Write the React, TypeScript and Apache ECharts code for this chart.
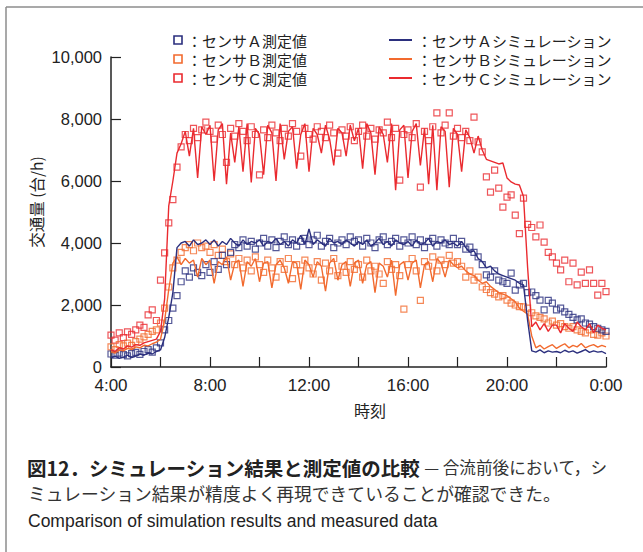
import React, { useEffect, useRef } from "react";
import * as echarts from "echarts";

// 10-minute samples from 4:00 to 0:00 (121 values each)
const START_HOUR = 4;
const STEP_HOURS = 1 / 6;

const aMeas = [
  420, 380, 450, 400, 360, 430, 470, 410, 500, 560, 480, 620,
  780, 1200, 1500, 1900, 2300, 2750, 3100, 2900, 3200, 3050, 2950, 3300,
  3050, 3400, 3150, 3600, 3300, 3700, 3950, 3850, 4100, 3900, 4050, 3800,
  4000, 4150, 3900, 4100, 3850, 4050, 4200, 3950, 4100, 3900, 4050, 4150,
  3950, 4100, 4250, 3900, 4050, 4150, 3850, 4000, 4100, 3950, 4200, 4050,
  4100, 3900, 4150, 4000, 3850, 4100, 4200, 3950, 4050, 4150, 3900, 4100,
  4000, 4200, 3950, 4100, 3850, 4050, 4150, 3900, 4100, 4000, 3950, 4150,
  3950, 4050, 3800, 3870, 3700, 3550, 3300, 2970, 2900, 3100, 2800, 2750,
  2700, 3030, 2480, 2650, 2700, 2400, 2420, 2300, 2160, 1840, 2150, 2060,
  1840, 1900, 1780, 1700, 1600, 1520, 1550, 1420, 1380, 1300, 1250, 1200,
  1150,
];

const aSim = [
  300, 350, 280, 320, 380, 300, 350, 420, 380, 450, 420, 500,
  550, 950, 1600, 2400, 3850, 4000, 4050, 3900, 4100, 3950, 4000, 4100,
  3950, 4100, 3900, 4050, 3950, 4150, 4000, 3900, 4100, 3950, 4050, 4000,
  4100, 3900, 4050, 4000, 4150, 3950, 4050, 3900, 4100, 4000, 4250, 3950,
  4450, 3950, 4100, 4000, 3900, 4150, 4000, 4050, 3950, 4100, 4000, 3900,
  4050, 3950, 4100, 3900, 4000, 4150, 3950, 4050, 3900, 4100, 4000, 3950,
  4050, 3900, 4100, 3950, 4000, 4150, 3900, 4050, 4000, 4100, 3950, 4000,
  3900, 4050, 3850, 3700, 3750, 3500, 3400, 3200, 3250, 3100, 3000, 2950,
  2900, 2850, 2800, 2700, 2650, 1500, 520, 480, 550, 460, 520, 480,
  500, 460, 540, 480, 520, 450, 500, 560, 470, 520, 480, 500,
  430,
];

const bMeas = [
  650, 560, 720, 680, 770, 700, 820, 900, 970, 1050, 1150, 1200,
  1420, 1900, 2580, 3200, 3450, 3700, 3850, 3950, 3750, 4000, 3850, 3900,
  3700, 3950, 3600, 3800, 3400, 3650, 3300, 3500, 3200, 3450, 3100, 3550,
  3300, 3050, 3450, 3200, 2900, 3400, 3150, 3500, 2850, 3300, 3100, 3450,
  3200, 3000, 3400, 2800, 3350, 3100, 3500, 2950, 3250, 3050, 3400, 3150,
  3300, 2900, 3450, 3100, 3250, 3000, 2700, 3400, 3150, 3300, 2950, 1870,
  3300, 3500, 3100, 2150, 3400, 3250, 3550, 3100, 3450, 3300, 3600, 3350,
  3400, 3250, 2900, 3100, 2800, 2900, 2580, 2500, 2400, 2350, 2260, 2300,
  2160, 2060, 2000, 1950, 1940, 1900, 1750, 1650, 1600, 1550, 1420, 1480,
  1350, 1400, 1300, 1250, 1300, 1200, 1150, 1100, 1200, 1050, 1030, 1100,
  1000,
];

const bSim = [
  500, 450, 550, 520, 600, 560, 650, 620, 700, 680, 750, 800,
  900, 1500, 2500, 3350, 3550, 3300, 3500, 3350, 3450, 2900, 3500, 3300,
  3450, 2700, 3400, 3300, 3550, 2800, 3350, 3450, 2600, 3400, 3250, 3500,
  2750, 3350, 3400, 2550, 3300, 3450, 3200, 2700, 3400, 3350, 2500, 3450,
  3300, 2900, 3400, 3250, 2450, 3350, 3500, 2800, 3300, 3400, 2600, 3350,
  3450, 2700, 3300, 3400, 2400, 3350, 3250, 2900, 3450, 2300, 3300, 3400,
  2800, 3350, 3450, 2550, 3300, 3400, 2750, 3500, 3350, 2900, 3450, 3300,
  3200, 3250, 3100, 3000, 2950, 2800, 2700, 2750, 2600, 2500, 2400, 2350,
  2300, 2200, 2100, 1900, 1800, 1700, 1000, 620, 700, 580, 660, 720,
  600, 680, 750, 620, 700, 650, 760, 620, 680, 720, 640, 700,
  650,
];

const cMeas = [
  1030, 870, 1100, 950, 1130, 1050, 1200, 1350, 1280, 1680, 1840, 1500,
  2800, 3680, 4650, 5400, 6450, 7100, 7500, 7300, 7700, 7400, 7650, 7900,
  7600, 7350, 7800, 7500, 6600, 7700, 7450, 7850, 7600, 7300, 7750, 7500,
  6200, 7650, 7400, 7800, 7550, 7300, 7700, 7450, 7850, 7600, 6800, 7700,
  7500, 7350, 7750, 7600, 7400, 7800, 7550, 6900, 7650, 7450, 7750, 7300,
  7600, 7800, 7450, 7700, 7350, 7650, 7550, 7900, 7400, 7700, 6030, 7500,
  7650, 7400, 7850, 5800, 7600, 7300, 7750, 8200, 7550, 7800, 8200, 7450,
  7700, 7400, 7600, 7300, 8060, 7260, 6940, 6130, 5640, 6350, 5770, 5160,
  5480, 5550, 4900, 4300, 5450, 4600, 4500, 4200, 4580, 4030, 3700, 3550,
  3350, 3130, 3450, 2750, 3350, 2650, 3060, 2700, 3130, 2700, 2320, 2700,
  2430,
];

const cSim = [
  550, 500, 620, 580, 680, 640, 720, 700, 780, 820, 860, 900,
  1150, 2200, 5200, 6000, 6900, 7200, 7600, 6800, 7700, 6100, 7750, 7500,
  7800, 6000, 7650, 7850, 5900, 7550, 6600, 7750, 6300, 7850, 5950, 7700,
  7500, 6200, 7800, 7550, 6000, 7850, 6700, 7600, 7750, 6400, 7500, 7850,
  6300, 7700, 7500, 6900, 7800, 7350, 6500, 7700, 7550, 6800, 7800, 7300,
  7700, 6400, 7850, 7550, 6200, 7750, 7500, 6600, 7850, 5700, 7650, 7800,
  6100, 7600, 7850, 6500, 7700, 5900, 7800, 5700, 7750, 7600, 5800, 7700,
  7500, 6300, 7650, 7400, 6900, 7450, 7000, 6700, 6650, 6600, 6550, 6580,
  6100, 5970, 5900, 5870, 5500, 3200, 1300, 1450, 1200, 1400, 1150, 1350,
  1350, 1100, 1400, 1250, 1150, 1450, 1300, 1200, 1400, 1100, 1350, 1250,
  1200,
];

const measNames = ["センサＡ測定値", "センサＢ測定値", "センサＣ測定値"];
const simNames = ["センサＡシミュレーション", "センサＢシミュレーション", "センサＣシミュレーション"];
const colors = ["#2b2f7e", "#f26a2e", "#ea2a2f"];

const yTitle = "交通量 (台/h)";
const xTitle = "時刻";
const captionBold = "図12．シミュレーション結果と測定値の比較";
const captionRest = " — 合流前後において，シ";
const captionLine2 = "ミュレーション結果が精度よく再現できていることが確認できた。";
const captionEn = "Comparison of simulation results and measured data";

const JP = '"Noto Sans CJK JP", sans-serif';
const EN = '"Liberation Sans", Arial, Helvetica, sans-serif';

const toPairs = (arr: number[]) => arr.map((v, i) => [START_HOUR + i * STEP_HOURS, v]);

export default function App() {
  const ref = useRef<HTMLDivElement>(null);
  useEffect(() => {
    if (!ref.current) return;
    const chart = echarts.init(ref.current, undefined, { renderer: "svg" });
    const measData = [aMeas, bMeas, cMeas];
    const simData = [aSim, bSim, cSim];

    const measSeries = [2, 1, 0].map((k) => ({
      name: measNames[k],
      type: "scatter",
      symbol: "rect",
      symbolSize: 6,
      data: toPairs(measData[k]),
      itemStyle: { color: "rgba(255,255,255,0)", borderColor: colors[k], borderWidth: 1.2 },
      z: 2,
    }));
    const simSeries = [2, 1, 0].map((k) => ({
      name: simNames[k],
      type: "line",
      showSymbol: false,
      symbol: "none",
      data: toPairs(simData[k]),
      lineStyle: { color: colors[k], width: 1.4 },
      z: 3,
    }));

    const legendRowsY = [40, 59, 78];
    const legendGraphics: any[] = [];
    legendRowsY.forEach((y, k) => {
      legendGraphics.push({
        type: "rect",
        shape: { x: 174, y: y - 4, width: 8, height: 8 },
        style: { fill: "none", stroke: colors[k], lineWidth: 1.6 },
      });
      legendGraphics.push({
        type: "text",
        x: 187,
        y,
        style: { text: "：" + measNames[k], fontSize: 15, fontFamily: JP, fill: "#222", verticalAlign: "middle" },
      });
      legendGraphics.push({
        type: "line",
        shape: { x1: 389, y1: y, x2: 412, y2: y },
        style: { stroke: colors[k], lineWidth: 2 },
      });
      legendGraphics.push({
        type: "text",
        x: 417,
        y,
        style: { text: "：" + simNames[k], fontSize: 15, fontFamily: JP, fill: "#222", verticalAlign: "middle" },
      });
    });

    chart.setOption({
      animation: false,
      backgroundColor: "#fff",
      grid: { left: 111, right: 37, top: 57, bottom: 185, containLabel: false },
      xAxis: {
        type: "value",
        min: 4,
        max: 24,
        interval: 4,
        axisLine: { show: true, lineStyle: { color: "#222", width: 1.5 } },
        axisTick: { show: true, inside: true, length: 10, lineStyle: { color: "#222", width: 1.2 } },
        minorTick: { show: true, splitNumber: 2, length: 10, lineStyle: { color: "#222", width: 1.2 } },
        splitLine: { show: false },
        axisLabel: {
          formatter: (v: number) => `${v % 24}:00`,
          fontSize: 17,
          fontFamily: EN,
          color: "#222",
          margin: 10,
        },
      },
      yAxis: {
        type: "value",
        min: 0,
        max: 10000,
        interval: 2000,
        axisLine: { show: true, lineStyle: { color: "#222", width: 1.5 } },
        axisTick: { show: true, inside: true, length: 10, lineStyle: { color: "#222", width: 1.2 } },
        splitLine: { show: false },
        axisLabel: {
          formatter: (v: number) => v.toLocaleString("en-US"),
          fontSize: 16.5,
          fontFamily: EN,
          color: "#222",
          margin: 9,
          lineHeight: 14,
        },
      },
      series: [...measSeries, ...simSeries],
      graphic: [
        { type: "line", shape: { x1: 6, y1: 7, x2: 643, y2: 7 }, style: { stroke: "#8c8c8c", lineWidth: 1.5 } },
        { type: "line", shape: { x1: 6, y1: 7, x2: 6, y2: 552 }, style: { stroke: "#8c8c8c", lineWidth: 1.5 } },
        ...legendGraphics,
        {
          type: "text",
          x: 36,
          y: 202,
          rotation: Math.PI / 2,
          style: { text: yTitle, fontSize: 15.5, fontFamily: JP, fill: "#222", align: "center", verticalAlign: "middle" },
        },
        {
          type: "text",
          x: 370,
          y: 410,
          style: { text: xTitle, fontSize: 16, fontFamily: JP, fill: "#222", align: "center", verticalAlign: "middle" },
        },
        {
          type: "text",
          x: 27,
          y: 467,
          style: {
            text: `{b|${captionBold}}{r|${captionRest}}`,
            verticalAlign: "middle",
            rich: {
              b: { fontSize: 19.5, fontWeight: "bold", fontFamily: JP, fill: "#222" },
              r: { fontSize: 16.6, fontFamily: JP, fill: "#333" },
            },
          },
        },
        {
          type: "text",
          x: 28,
          y: 493,
          style: { text: captionLine2, fontSize: 17.8, fontFamily: JP, fill: "#333", verticalAlign: "middle" },
        },
        {
          type: "text",
          x: 28,
          y: 521,
          style: { text: captionEn, fontSize: 17.5, fontFamily: EN, fill: "#222", verticalAlign: "middle" },
        },
      ],
    });
    return () => chart.dispose();
  }, []);
  return <div ref={ref} style={{ position: "fixed", left: 0, top: 0, width: 643, height: 552, background: "#fff" }} />;
}
